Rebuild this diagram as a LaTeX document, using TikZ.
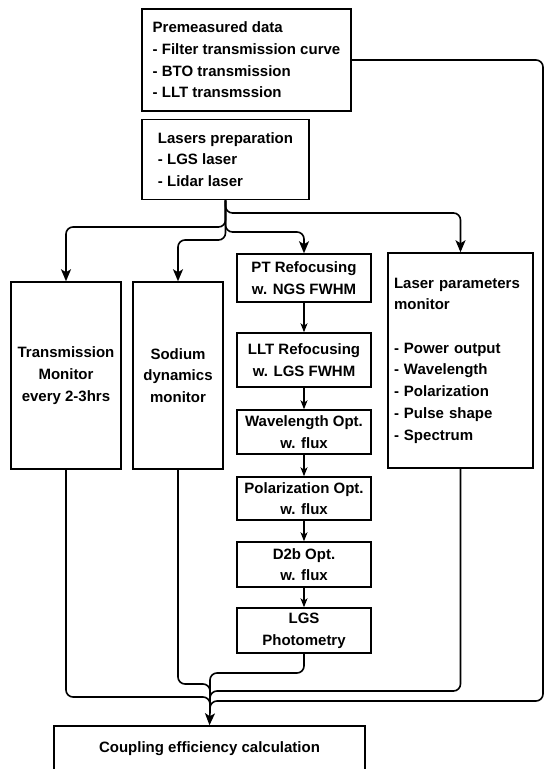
\documentclass[tikz,border=0pt]{standalone}
\usepackage{fontspec}
\setmainfont{Liberation Sans}
\usetikzlibrary{arrows.meta}
\begin{document}
\begin{tikzpicture}[x=1pt,y=-1pt,
  box/.style={draw, line width=1.5pt, inner sep=0pt, font=\bfseries\fontsize{15}{21.7}\selectfont},
  cbox/.style={box, minimum width=134pt, align=center},
  conn/.style={line width=1.6pt, rounded corners=7pt},
  bigarr/.style={conn, -{Stealth[length=12pt,width=10pt,inset=3pt]}},
  smallarr/.style={line width=1.1pt, -{Stealth[length=9pt,width=7pt,inset=2.5pt]}}
]
\useasboundingbox (0,0) rectangle (545,769);
\fill[white] (0,0) rectangle (545,769);
\clip (0,0) rectangle (545,769);

% boxes
\node[box, align=left, minimum width=209pt, minimum height=102pt] (pre) at (246.5,60)
  {Premeasured data\\- Filter transmission curve\\- BTO transmission\\- LLT transmssion};
\node[box, align=left, minimum width=167pt, minimum height=80pt] (laser) at (225.5,159.5)
  {Lasers preparation\\- LGS laser\\- Lidar laser};
\node[box, align=center, minimum width=110pt, minimum height=187pt] (trans) at (66,375.5)
  {Transmission\\Monitor\\every 2-3hrs};
\node[box, align=center, minimum width=90pt, minimum height=187pt] (sodium) at (178,375.5)
  {Sodium\\dynamics\\monitor};
\node[box, align=left, text width=133pt, inner xsep=6pt, minimum height=215pt] (lpm) at (460.5,360.5)
  {Laser parameters\\monitor\\[21.7pt]- Power output\\- Wavelength\\- Polarization\\- Pulse shape\\- Spectrum};

\node[cbox, minimum height=48pt] (pt)   at (304,278)   {PT Refocusing\\w. NGS FWHM};
\node[cbox, minimum height=54pt] (llt)  at (304,360)   {LLT Refocusing\\w. LGS FWHM};
\node[cbox, minimum height=44pt] (wave) at (304,432)   {Wavelength Opt.\\w. flux};
\node[cbox, minimum height=43pt] (pol)  at (304,498.5) {Polarization Opt.\\w. flux};
\node[cbox, minimum height=45pt] (d2b)  at (304,564.5) {D2b Opt.\\w. flux};
\node[cbox, minimum height=45pt] (lgs)  at (304,630.5) {LGS\\Photometry};

\node[box, minimum width=311pt, minimum height=45pt] (coup) at (209.5,748.5)
  {Coupling efficiency calculation};

% branches from laser preparation
\draw[bigarr] (laser.south) -- (laser.south |- 0,227) -| (trans.north);
\draw[bigarr] (laser.south) -- (laser.south |- 0,240) -| (sodium.north);
\draw[bigarr] (laser.south) -- (laser.south |- 0,232) -| (pt.north);
\draw[bigarr] (laser.south) -- (laser.south |- 0,213) -| (lpm.north);

% central chain
\draw[smallarr] (pt.south) -- (llt.north);
\draw[smallarr] (llt.south) -- (wave.north);
\draw[smallarr] (wave.south) -- (pol.north);
\draw[smallarr] (pol.south) -- (d2b.north);
\draw[smallarr] (d2b.south) -- (lgs.north);

% merge into coupling efficiency
\coordinate (mrg) at (210,712);
\draw[conn] (trans.south) |- (mrg |- 0,697) -- (mrg);
\draw[conn] (sodium.south) |- (mrg |- 0,684) -- (mrg);
\draw[conn] (lgs.south) |- (mrg |- 0,673) -- (mrg);
\draw[conn] (lpm.south) |- (mrg |- 0,691) -- (mrg);
\draw[conn] (pre.east) -- (543,60) -- (543,701) -- (mrg |- 0,701) -- (mrg);
\draw[bigarr] (mrg) -- (coup.north);
\end{tikzpicture}
\end{document}
